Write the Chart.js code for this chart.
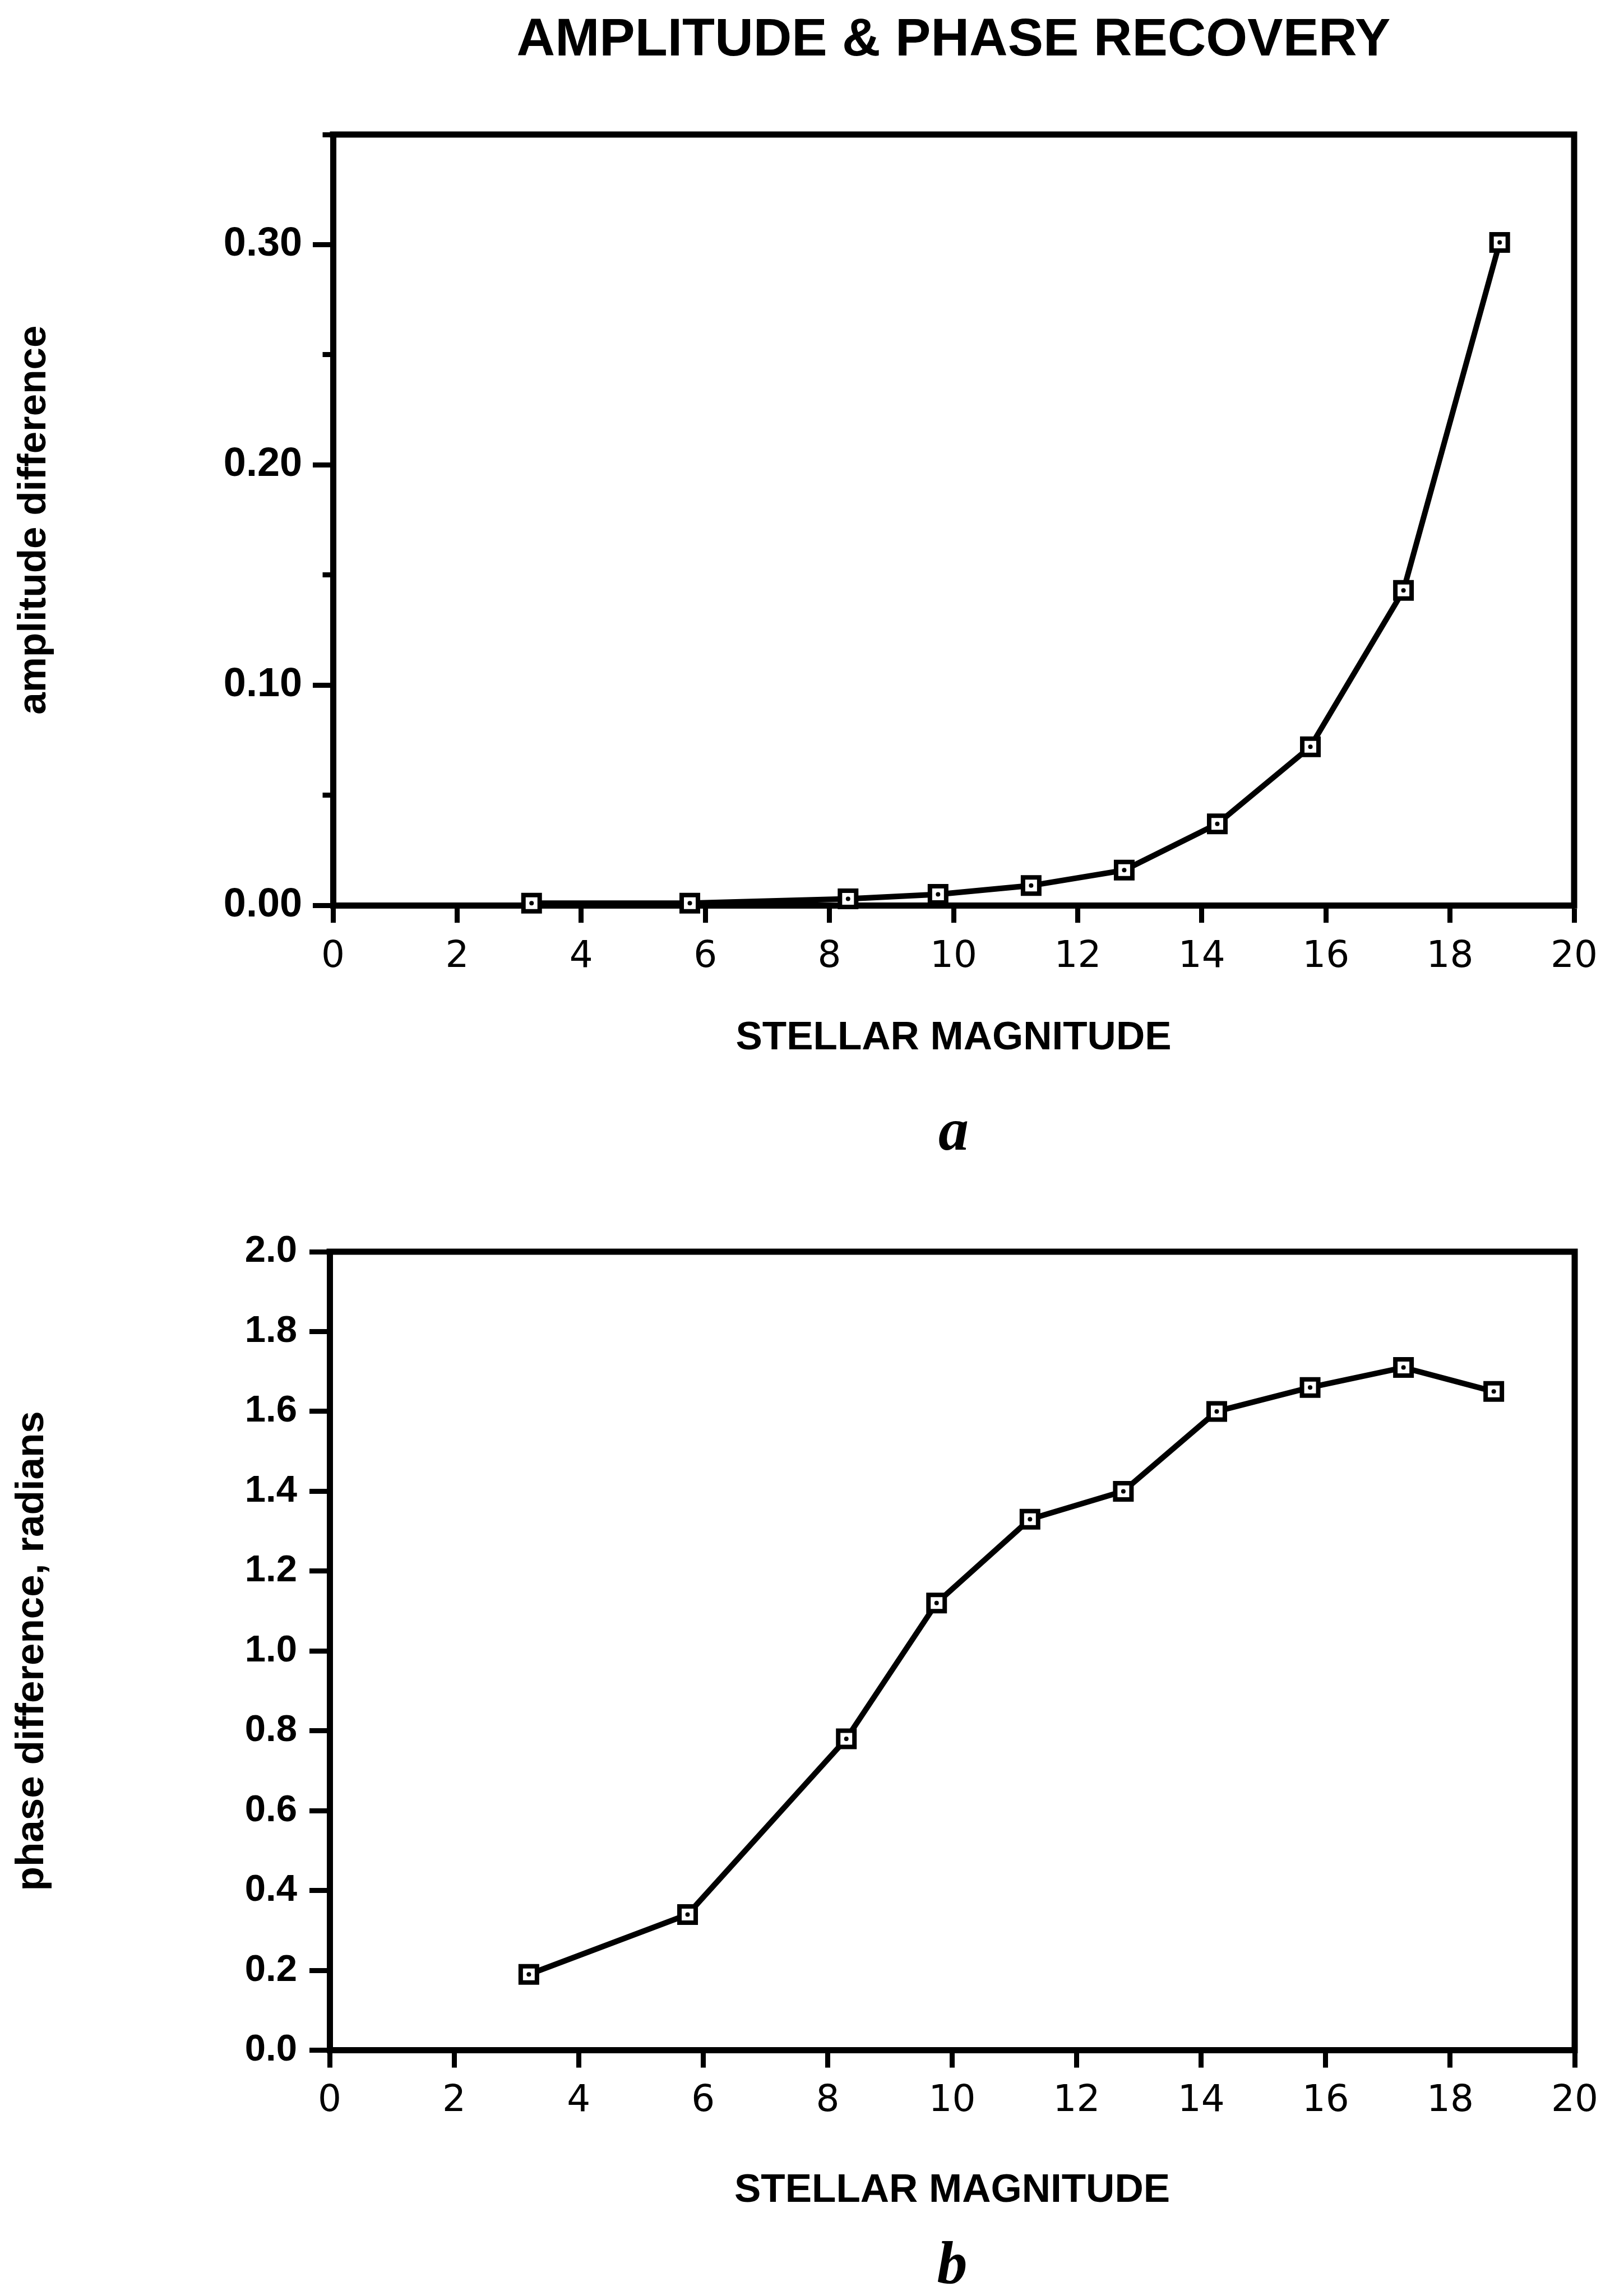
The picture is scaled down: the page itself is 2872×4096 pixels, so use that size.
<!DOCTYPE html>
<html>
<head>
<meta charset="utf-8">
<script src="https://cdn.jsdelivr.net/npm/chart.js@4.4.1/dist/chart.umd.min.js"></script>
<style>
  html, body { margin: 0; padding: 0; background: #fff; }
  .panel { position: absolute; left: 0; width: 2872px; }
  #panelA { top: 0; height: 2110px; }
  #panelB { top: 2110px; height: 1986px; }
</style>
</head>
<body>
<div class="panel" id="panelA"><canvas id="chartA"></canvas></div>
<div class="panel" id="panelB"><canvas id="chartB"></canvas></div>
<script>
// panel a: amplitude difference vs stellar magnitude
const magnitudesA = [3.2, 5.75, 8.3, 9.75, 11.25, 12.75, 14.25, 15.75, 17.25, 18.8];
const amplitudeDiff = [0.001, 0.001, 0.003, 0.005, 0.009, 0.016, 0.037, 0.072, 0.143, 0.301];

// panel b: phase difference (radians) vs stellar magnitude
const magnitudesB = [3.2, 5.75, 8.3, 9.75, 11.25, 12.75, 14.25, 15.75, 17.25, 18.7];
const phaseDiff = [0.19, 0.34, 0.78, 1.12, 1.33, 1.40, 1.60, 1.66, 1.71, 1.65];

// axis ticks
const magnitudeTicks = [0, 2, 4, 6, 8, 10, 12, 14, 16, 18, 20];
const amplitudeTicks = [0, 0.05, 0.10, 0.15, 0.20, 0.25, 0.30, 0.35];
const phaseTicks = [0, 0.2, 0.4, 0.6, 0.8, 1.0, 1.2, 1.4, 1.6, 1.8, 2.0];

const SANS = '"Liberation Sans", Arial, Helvetica, sans-serif';
const toPoints = (xs, ys) => xs.map((x, i) => ({ x: x, y: ys[i] }));
const isMajorAmp = v => Math.round(v * 100) % 10 === 0;

// top and right sides of the box around the plot
const framePlugin = {
  id: 'frame',
  beforeDatasetsDraw(chart) {
    const { ctx, chartArea: a } = chart;
    ctx.save();
    ctx.strokeStyle = '#000';
    ctx.lineWidth = 11;
    ctx.lineCap = 'square';
    ctx.beginPath();
    ctx.moveTo(a.left, a.top);
    ctx.lineTo(a.right, a.top);
    ctx.lineTo(a.right, a.bottom);
    ctx.stroke();
    ctx.restore();
  }
};

function makePanel(id, o) {
  const points = toPoints(o.xs, o.ys);
  return new Chart(document.getElementById(id), {
    type: 'line',
    data: {
      datasets: [
        {
          data: points,
          order: 1,
          borderColor: '#000',
          borderWidth: 10,
          pointStyle: 'rect',
          pointRadius: 20.5,
          pointBorderWidth: 8,
          pointBackgroundColor: '#fff',
          pointBorderColor: '#000',
          clip: false
        },
        {
          data: points,
          order: 0,
          showLine: false,
          pointStyle: 'circle',
          pointRadius: 4,
          pointBorderWidth: 0,
          pointBackgroundColor: '#000',
          clip: false
        }
      ]
    },
    options: {
      responsive: true,
      maintainAspectRatio: false,
      animation: false,
      events: [],
      layout: { padding: o.padding },
      plugins: {
        legend: { display: false },
        tooltip: { enabled: false },
        title: o.title,
        subtitle: o.subtitle
      },
      scales: {
        x: {
          type: 'linear',
          min: 0,
          max: 20,
          afterBuildTicks: s => { s.ticks = magnitudeTicks.map(v => ({ value: v })); },
          afterFit: s => { s.height = o.xHeight; },
          border: { display: true, color: '#000', width: 11 },
          grid: { drawOnChartArea: false, tickLength: 31, tickWidth: 9, tickColor: '#000' },
          ticks: {
            color: '#000',
            padding: o.xPad,
            maxRotation: 0,
            autoSkip: false,
            font: { family: '"DejaVu Sans", sans-serif', size: 66 },
            callback: v => String(v)
          },
          title: {
            display: true,
            text: 'STELLAR MAGNITUDE',
            color: '#000',
            padding: { top: 0, bottom: 0 },
            font: { family: SANS, size: 71, weight: 'bold' }
          }
        },
        y: {
          type: 'linear',
          min: o.yMin,
          max: o.yMax,
          afterBuildTicks: s => { s.ticks = o.yTicks.map(v => ({ value: v })); },
          afterFit: s => { s.width = o.yWidth; },
          border: { display: true, color: '#000', width: 11 },
          grid: {
            drawOnChartArea: false,
            tickLength: 36,
            tickWidth: 9,
            tickColor: '#000',
            tickBorderDash: o.minorDash
          },
          ticks: {
            color: '#000',
            padding: o.yPad,
            autoSkip: false,
            font: { family: SANS, size: o.yFont, weight: 'bold' },
            callback: o.yLabel
          },
          title: {
            display: true,
            text: o.yTitle,
            color: '#000',
            padding: { top: o.yTitlePad, bottom: 0 },
            font: { family: SANS, size: 71, weight: 'bold' }
          }
        }
      }
    },
    plugins: [framePlugin]
  });
}

const letterFont = { family: '"Liberation Serif", "Times New Roman", serif', size: 108, style: 'italic', weight: 'bold', lineHeight: 0.6 };

makePanel('chartA', {
  xs: magnitudesA,
  ys: amplitudeDiff,
  padding: { left: 0, right: 54, top: 0, bottom: 0 },
  xHeight: 280,
  xPad: 22,
  yMin: 0,
  yMax: 0.35,
  yTicks: amplitudeTicks,
  yWidth: 594,
  yPad: 19,
  yFont: 72,
  yLabel: v => (isMajorAmp(v) ? v.toFixed(2) : ''),
  minorDash: c => (c.tick && !isMajorAmp(c.tick.value) ? [0, 17.5, 100, 0] : []),
  yTitle: 'amplitude difference',
  yTitlePad: 19,
  title: {
    display: true,
    text: 'AMPLITUDE & PHASE RECOVERY',
    color: '#000',
    fullSize: false,
    padding: { top: 16, bottom: 110 },
    font: { family: SANS, size: 95, weight: 'bold' }
  },
  subtitle: {
    display: true,
    text: 'a',
    position: 'bottom',
    color: '#000',
    fullSize: false,
    padding: { top: 95, bottom: 55 },
    font: letterFont
  }
});

makePanel('chartB', {
  xs: magnitudesB,
  ys: phaseDiff,
  padding: { left: 0, right: 57, top: 123, bottom: 0 },
  xHeight: 293,
  xPad: 21,
  yMin: 0,
  yMax: 2.0,
  yTicks: phaseTicks,
  yWidth: 588,
  yPad: 22,
  yFont: 67,
  yLabel: v => v.toFixed(1),
  minorDash: [],
  yTitle: 'phase difference, radians',
  yTitlePad: 15,
  title: { display: false },
  subtitle: {
    display: true,
    text: 'b',
    position: 'bottom',
    color: '#000',
    fullSize: false,
    padding: { top: 62, bottom: 18.6 },
    font: letterFont
  }
});
</script>
</body>
</html>
